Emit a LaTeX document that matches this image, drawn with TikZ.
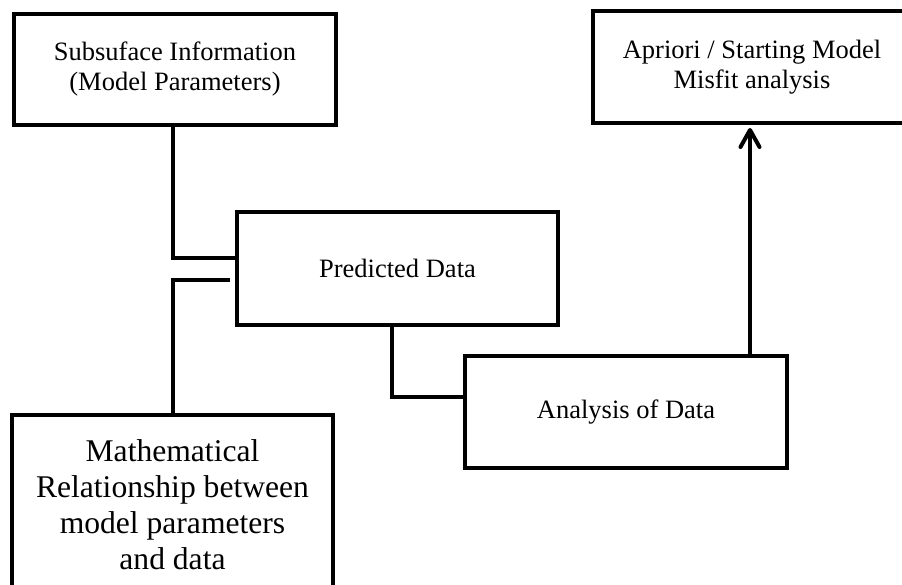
\documentclass[tikz,border=0pt]{standalone}
\usepackage{fontspec}
\setmainfont{Liberation Serif}
\usetikzlibrary{arrows.meta}
\tikzset{>={Straight Barb[length=17pt,width=19pt,round]}}

\begin{document}
\begin{tikzpicture}[x=1pt,y=1pt,
		box/.style={draw,line width=4pt,align=center,inner sep=0pt},
		small/.style={font=\fontsize{26.5}{30}\selectfont},
		big/.style={font=\fontsize{31.6}{36}\selectfont},
		link/.style={line width=4pt}]
			\useasboundingbox (0,0) rectangle (902,585);
			\node[box,small,minimum width=322pt,minimum height=111pt] (sub) at (175,515.5) {Subsuface Information\\(Model Parameters)};
			\node[box,small,minimum width=318pt,minimum height=112pt] (apr) at (752,518) {Apriori / Starting Model\\Misfit analysis};
			\node[box,small,minimum width=321pt,minimum height=113pt] (pred) at (397.5,316.5) {Predicted Data};
			\node[box,small,minimum width=322pt,minimum height=112pt] (ana) at (626,173) {Analysis of Data};
			\node[box,big,minimum width=321pt,minimum height=180pt] (math) at (172.5,80) {Mathematical\\Relationship between\\model parameters\\and data};
			
			\draw[link] ([xshift=-2pt]sub.south) |- ([yshift=10.5pt]pred.west);
			\draw[link] (math.north) |- ([xshift=-5pt,yshift=-11.5pt]pred.west);
			\draw[link] ([xshift=-5.5pt]pred.south) |- ([yshift=15pt]ana.west);
			\draw[link,->] ([xshift=124pt]ana.north) -- ([xshift=124pt,yshift=-3pt]ana.north |- apr.south);
		\end{tikzpicture}
\end{document}
